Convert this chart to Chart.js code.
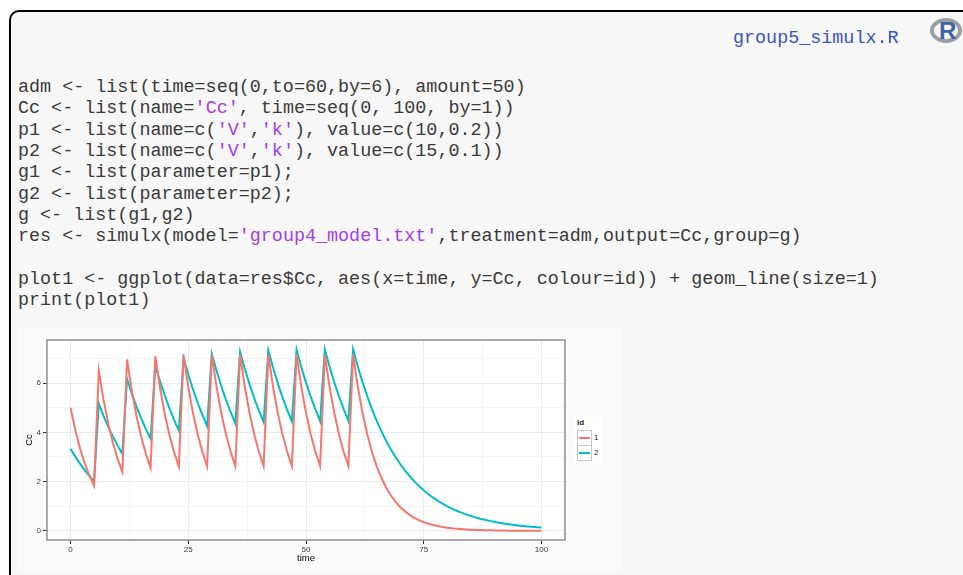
<!DOCTYPE html>
<html>
<head>
<meta charset="utf-8">
<script src="https://cdn.jsdelivr.net/npm/chart.js@4.4.1/dist/chart.umd.min.js"></script>
<style>
  html, body { margin:0; padding:0; background:#ffffff; width:963px; height:575px; overflow:hidden; position:relative; }
  #box { position:absolute; left:9px; top:10px; width:980px; height:600px; border:2px solid #000; border-radius:10px; background:#f7f7f7; }
  .mono { font-family:"Liberation Mono","Courier New",monospace; font-size:18.4px; white-space:pre; position:absolute; }
  #fname { left:733px; top:28px; color:#3a52c8; }
  #code { left:18px; top:77px; line-height:21.35px; color:#3a3a3a; }
  .str { color:#a43cf0; }
  #plotimg { position:absolute; left:17px; top:328px; width:605px; height:244px; background:#fbfbfb; }
  #legend { position:absolute; left:574px; top:417px; width:29px; height:46px; background:#ffffff; font-family:"Liberation Sans",Arial,sans-serif; font-size:8px; color:#1a1a1a; }
  #legend .ttl { position:absolute; left:3px; top:1px; font-weight:bold; }
  #legend .key { position:absolute; left:3px; width:13px; height:14px; border:1px solid #c8c8c8; background:#fff; }
  #legend .key span { position:absolute; left:1px; right:1px; top:6px; height:2px; }
  #legend .lab { position:absolute; left:20px; }
  #rlogo { position:absolute; left:928px; top:15px; width:36px; height:32px; }
  #rlogo .ring { position:absolute; left:2px; top:3px; width:24px; height:17px; border-radius:50%; border:4px solid #9b9ea3; }
  #rlogo .R { position:absolute; left:11px; top:4px; font-family:"Liberation Sans",Arial,sans-serif; font-weight:bold; font-size:24px; color:#3d65a8; line-height:24px; }
</style>
</head>
<body>
<div id="box"></div>
<div id="rlogo"><div class="ring"></div><div class="R">R</div></div>
<div id="fname" class="mono">group5_simulx.R</div>
<div id="code" class="mono">adm &lt;- list(time=seq(0,to=60,by=6), amount=50)
Cc &lt;- list(name=<span class="str">'Cc'</span>, time=seq(0, 100, by=1))
p1 &lt;- list(name=c(<span class="str">'V'</span>,<span class="str">'k'</span>), value=c(10,0.2))
p2 &lt;- list(name=c(<span class="str">'V'</span>,<span class="str">'k'</span>), value=c(15,0.1))
g1 &lt;- list(parameter=p1);
g2 &lt;- list(parameter=p2);
g &lt;- list(g1,g2)
res &lt;- simulx(model=<span class="str">'group4_model.txt'</span>,treatment=adm,output=Cc,group=g)

plot1 &lt;- ggplot(data=res$Cc, aes(x=time, y=Cc, colour=id)) + geom_line(size=1)
print(plot1)</div>
<div id="plotimg"><canvas id="c" width="605" height="244"></canvas></div>
<div id="legend"></div>
<script>
// ---- data ----
const time = [0,1,2,3,4,5,6,7,8,9,10,11,12,13,14,15,16,17,18,19,20,21,22,23,24,25,26,27,28,29,30,31,32,33,34,35,36,37,38,39,40,41,42,43,44,45,46,47,48,49,50,51,52,53,54,55,56,57,58,59,60,61,62,63,64,65,66,67,68,69,70,71,72,73,74,75,76,77,78,79,80,81,82,83,84,85,86,87,88,89,90,91,92,93,94,95,96,97,98,99,100];
const cc1 = [5.000,4.094,3.352,2.744,2.247,1.839,
  6.506,5.327,4.361,3.571,2.923,2.393,
  6.960,5.698,4.665,3.819,3.127,2.560,
  7.096,5.810,4.757,3.894,3.189,2.611,
  7.137,5.844,4.784,3.917,3.207,2.626,
  7.150,5.854,4.793,3.924,3.213,2.630,
  7.153,5.857,4.795,3.926,3.214,2.632,
  7.155,5.858,4.796,3.927,3.215,2.632,
  7.155,5.858,4.796,3.927,3.215,2.632,
  7.155,5.858,4.796,3.927,3.215,2.632,
  7.155,5.858,4.796,3.927,3.215,2.632,2.155,1.764,1.445,1.183,0.968,0.793,0.649,0.531,0.435,0.356,0.292,0.239,0.196,0.160,0.131,0.107,0.088,0.072,0.059,0.048,0.039,0.032,0.026,0.022,0.018,0.015,0.012,0.010,0.008,0.007,0.005,0.004,0.004,0.003,0.002];
const cc2 = [3.333,3.016,2.729,2.469,2.234,2.022,
  5.163,4.671,4.227,3.825,3.461,3.131,
  6.167,5.580,5.049,4.568,4.134,3.740,
  6.718,6.078,5.500,4.977,4.503,4.074,
  7.020,6.352,5.748,5.201,4.706,4.258,
  7.186,6.502,5.883,5.324,4.817,4.359,
  7.277,6.585,5.958,5.391,4.878,4.414,
  7.327,6.630,5.999,5.428,4.912,4.444,
  7.355,6.655,6.021,5.448,4.930,4.461,
  7.370,6.668,6.034,5.460,4.940,4.470,
  7.378,6.676,6.040,5.466,4.946,4.475,4.049,3.664,3.315,3.000,2.714,2.456,2.222,2.011,1.819,1.646,1.490,1.348,1.220,1.104,0.998,0.903,0.817,0.740,0.669,0.606,0.548,0.496,0.449,0.406,0.367,0.332,0.301,0.272,0.246,0.223,0.202,0.182,0.165,0.149,0.135];
const seriesNames = ['1','2'];
const seriesColors = ['#F8766D','#00BFC4'];
const xTicks = [0,12.5,25,37.5,50,62.5,75,87.5,100];
const xMajor = [0,25,50,75,100];
const yTicks = [0,1,2,3,4,5,6,7];
const yMajor = [0,2,4,6];

const toPts = arr => arr.map((v,i)=>({x:time[i], y:v}));
const isMajX = v => xMajor.includes(v);
const isMajY = v => yMajor.includes(v);

const panelPlugin = {
  id:'panel',
  beforeDraw(chart){
    const {ctx, chartArea:a} = chart;
    ctx.save();
    ctx.fillStyle = '#fbfbfb';
    ctx.fillRect(0,0,chart.width,chart.height);
    ctx.fillStyle = '#ffffff';
    ctx.fillRect(a.left,a.top,a.right-a.left,a.bottom-a.top);
    ctx.restore();
  },
  afterDraw(chart){
    const {ctx, chartArea:a} = chart;
    ctx.save();
    ctx.strokeStyle = '#8f8f8f';
    ctx.lineWidth = 1.5;
    ctx.strokeRect(a.left,a.top,a.right-a.left,a.bottom-a.top);
    ctx.restore();
  }
};

const tickFont = {family:'"Liberation Sans", Arial, sans-serif', size:8};
new Chart(document.getElementById('c'), {
  type:'line',
  data:{
    datasets: seriesNames.map((n,i)=>({
      label:n,
      data: toPts(i===0?cc1:cc2),
      borderColor: seriesColors[i],
      backgroundColor: seriesColors[i],
      borderWidth:2,
      pointRadius:0,
      tension:0,
      fill:false
    }))
  },
  plugins:[panelPlugin],
  options:{
    responsive:false,
    devicePixelRatio:1,
    animation:false,
    layout:{padding:{left:0, top:12, right:57, bottom:0}},
    plugins:{legend:{display:false}, tooltip:{enabled:false}},
    scales:{
      x:{
        type:'linear', min:-5, max:105,
        afterBuildTicks: s => { s.ticks = xTicks.map(v=>({value:v})); },
        afterFit: s => { s.height = 32; },
        border:{display:false},
        grid:{
          color: c => isMajX(c.tick.value) ? '#ebebeb' : '#f6f6f6',
          tickColor: c => isMajX(c.tick.value) ? '#333333' : 'rgba(0,0,0,0)',
          tickLength:4, lineWidth:1
        },
        ticks:{ autoSkip:false, maxRotation:0, padding:1, font:tickFont, color:'#404040',
          callback: v => isMajX(v) ? String(v) : '' },
        title:{display:true, text:'time', color:'#000', font:{family:'"Liberation Sans", Arial, sans-serif', size:9.5}, padding:{top:0,bottom:8}}
      },
      y:{
        type:'linear', min:-0.37, max:7.75,
        afterBuildTicks: s => { s.ticks = yTicks.map(v=>({value:v})); },
        afterFit: s => { s.width = 30; },
        border:{display:false},
        grid:{
          color: c => isMajY(c.tick.value) ? '#ebebeb' : '#f6f6f6',
          tickColor: c => isMajY(c.tick.value) ? '#333333' : 'rgba(0,0,0,0)',
          tickLength:4, lineWidth:1
        },
        ticks:{ padding:2, font:tickFont, color:'#404040',
          callback: v => isMajY(v) ? String(v) : '' },
        title:{display:true, text:'Cc', color:'#000', font:{family:'"Liberation Sans", Arial, sans-serif', size:9.5}, padding:{top:7,bottom:0}}
      }
    }
  }
});

// legend (HTML, built from series arrays)
const lg = document.getElementById('legend');
let html = '<div class="ttl">id</div>';
seriesNames.forEach((n,i)=>{
  const top = 13 + i*15;
  html += `<div class="key" style="top:${top}px"><span style="background:${seriesColors[i]}"></span></div>`;
  html += `<div class="lab" style="top:${top+3}px">${n}</div>`;
});
lg.innerHTML = html;
</script>
</body>
</html>
